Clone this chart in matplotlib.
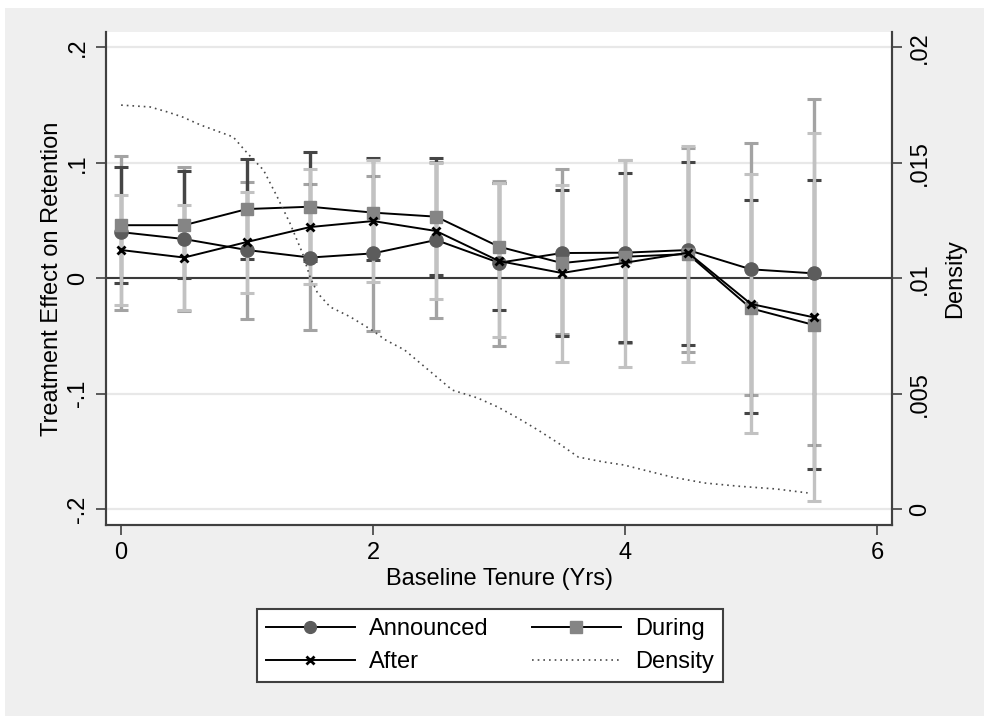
import matplotlib
matplotlib.use("Agg")
import matplotlib.pyplot as plt
from matplotlib.lines import Line2D
from matplotlib.patches import Rectangle
import numpy as np

plt.rcParams["font.family"] = ["Liberation Sans", "DejaVu Sans"]

# --------------------------
# Data
# --------------------------
tenure = [0, 0.5, 1, 1.5, 2, 2.5, 3, 3.5, 4, 4.5, 5, 5.5]

announced = [0.040, 0.034, 0.0245, 0.018, 0.0216, 0.0332, 0.0135, 0.0219, 0.0222, 0.0245, 0.0078, 0.0043]
announced_lo = [-0.0274, -0.028, -0.0355, -0.0447, -0.0454, -0.0346, -0.0583, -0.048, -0.0563, -0.064, -0.1013, -0.144]
announced_hi = [0.1062, 0.0964, 0.0837, 0.0814, 0.0886, 0.101, 0.0842, 0.0944, 0.1025, 0.113, 0.1169, 0.155]

during = [0.046, 0.046, 0.060, 0.062, 0.0569, 0.0534, 0.0274, 0.0132, 0.0187, 0.021, -0.026, -0.0404]
during_lo = [-0.0038, 0.0, 0.0165, 0.0149, 0.016, 0.0026, -0.0277, -0.0496, -0.0548, -0.0577, -0.1169, -0.1654]
during_hi = [0.0964, 0.0929, 0.1033, 0.1091, 0.1045, 0.1045, 0.0822, 0.0765, 0.0909, 0.1004, 0.0675, 0.0848]

after = [0.0245, 0.018, 0.0315, 0.0444, 0.0496, 0.041, 0.015, 0.0046, 0.0135, 0.0222, -0.0222, -0.0338]
after_lo = [-0.0234, -0.0275, -0.013, -0.0052, -0.0033, -0.0182, -0.0511, -0.0727, -0.0765, -0.0727, -0.1342, -0.1928]
after_hi = [0.0722, 0.0635, 0.0745, 0.0944, 0.1025, 0.0996, 0.0822, 0.0808, 0.1025, 0.1146, 0.090, 0.1255]

density_x = [0, 0.23, 0.37, 0.49, 0.63, 0.89, 1.0, 1.13, 1.24, 1.34, 1.44, 1.5, 1.56, 1.66,
             1.82, 1.99, 2.10, 2.25, 2.44, 2.63, 2.83, 2.99, 3.15, 3.31, 3.47, 3.63, 3.83,
             3.99, 4.15, 4.37, 4.63, 4.9, 5.2, 5.45]
density_y = [0.0175, 0.01742, 0.0172, 0.01698, 0.01664, 0.01612, 0.01543, 0.01469, 0.01352,
             0.01239, 0.01109, 0.01005, 0.00936, 0.00876, 0.00833, 0.00776, 0.00733, 0.0069,
             0.00603, 0.00516, 0.00482, 0.00443, 0.00395, 0.00343, 0.00287, 0.00226, 0.00205,
             0.00192, 0.0017, 0.0014, 0.00114, 0.001, 0.00088, 0.00071]

FS = 17

# --------------------------
# Figure
# --------------------------
fig = plt.figure(figsize=(9.89, 7.16), dpi=100, facecolor="white")
fig.patches.append(Rectangle((5 / 989, 0), 979 / 989, 708 / 716, transform=fig.transFigure,
                             facecolor="#efefef", edgecolor="none", zorder=-10))

ax = fig.add_axes([106 / 989, 1 - 525 / 716, 786 / 989, 493 / 716])
ax.set_facecolor("white")
ax2 = ax.twinx()

# confidence intervals
ci_specs = [
    (announced_lo, announced_hi, "#a3a3a3"),
    (during_lo, during_hi, "#454545"),
    (after_lo, after_hi, "#c2c2c2"),
]
for lo, hi, col in ci_specs:
    lo = np.array(lo)
    hi = np.array(hi)
    ax.errorbar(tenure, (lo + hi) / 2, yerr=(hi - lo) / 2, fmt="none", ecolor=col,
                elinewidth=2.4, capsize=4.8, capthick=2.2, zorder=2)

# point estimates
ax.plot(tenure, announced, color="black", lw=1.4, marker="o", ms=9.5,
        mfc="#5c5c5c", mec="#5c5c5c", zorder=3)
ax.plot(tenure, during, color="black", lw=1.4, marker="s", ms=9,
        mfc="#858585", mec="#858585", zorder=3)
ax.plot(tenure, after, color="black", lw=1.4, marker="x", ms=5.5, mew=2,
        mec="black", zorder=3)

ax.axhline(0, color="#3a3a3a", lw=1.5, zorder=1.5)

# density on the right axis
ax2.plot(density_x, density_y, color="#4a4a4a", lw=1.2, ls=(0, (1, 2.4)))

# --------------------------
# Axes styling
# --------------------------
ax.set_xlim(-0.12, 6.12)
ax.set_ylim(-0.2136, 0.2133)
ax2.set_ylim(0.01 + 0.05 * -0.2136, 0.01 + 0.05 * 0.2133)

ax.set_xticks([0, 2, 4, 6])
ax.set_yticks([-0.2, -0.1, 0, 0.1, 0.2])
ax.set_yticklabels(["-.2", "-.1", "0", ".1", ".2"])
ax2.set_yticks([0, 0.005, 0.01, 0.015, 0.02])
ax2.set_yticklabels(["0", ".005", ".01", ".015", ".02"])

ax.yaxis.grid(True, color="#e8e8e8", lw=1.6)
ax.set_axisbelow(True)

for a in (ax, ax2):
    a.spines["top"].set_visible(False)
    for s in ("left", "right", "bottom"):
        a.spines[s].set_color("#404040")
        a.spines[s].set_linewidth(1.5)

ax.tick_params(axis="x", length=7, width=1.2, color="#404040", labelsize=FS, pad=5)
ax.tick_params(axis="y", length=7, width=1.2, color="#404040", labelsize=FS,
               labelrotation=90, pad=5)
ax2.tick_params(axis="y", length=7, width=1.2, color="#404040", labelsize=FS,
                labelrotation=90, pad=5)
for lab in ax.get_yticklabels():
    lab.set_va("center")
for lab in ax2.get_yticklabels():
    lab.set_va("center")

ax.set_xlabel("Baseline Tenure (Yrs)", fontsize=FS, labelpad=3)
ax.set_ylabel("Treatment Effect on Retention", fontsize=FS, labelpad=3)
ax2.set_ylabel("Density", fontsize=FS, labelpad=10)

# --------------------------
# Legend
# --------------------------
handles = [
    Line2D([], [], color="black", lw=1.4, marker="o", ms=8.5, mfc="#5c5c5c", mec="#5c5c5c"),
    Line2D([], [], color="black", lw=1.4, marker="x", ms=5.5, mew=2, mec="black"),
    Line2D([], [], color="black", lw=1.4, marker="s", ms=8, mfc="#858585", mec="#858585"),
    Line2D([], [], color="#4a4a4a", lw=1.2, ls=(0, (1, 2.4))),
]
labels = ["Announced", "After", "During", "Density"]
leg = fig.legend(handles, labels, ncol=2, loc="center",
                 bbox_to_anchor=(490 / 989, 1 - 645.5 / 716), fontsize=FS,
                 frameon=True, fancybox=False, framealpha=1, edgecolor="#404040",
                 handlelength=3.75, handletextpad=0.6, columnspacing=1.85,
                 labelspacing=0.45, borderpad=0.4)
leg.get_frame().set_linewidth(1.5)

fig.savefig("out.png", dpi=100, facecolor=fig.get_facecolor())
